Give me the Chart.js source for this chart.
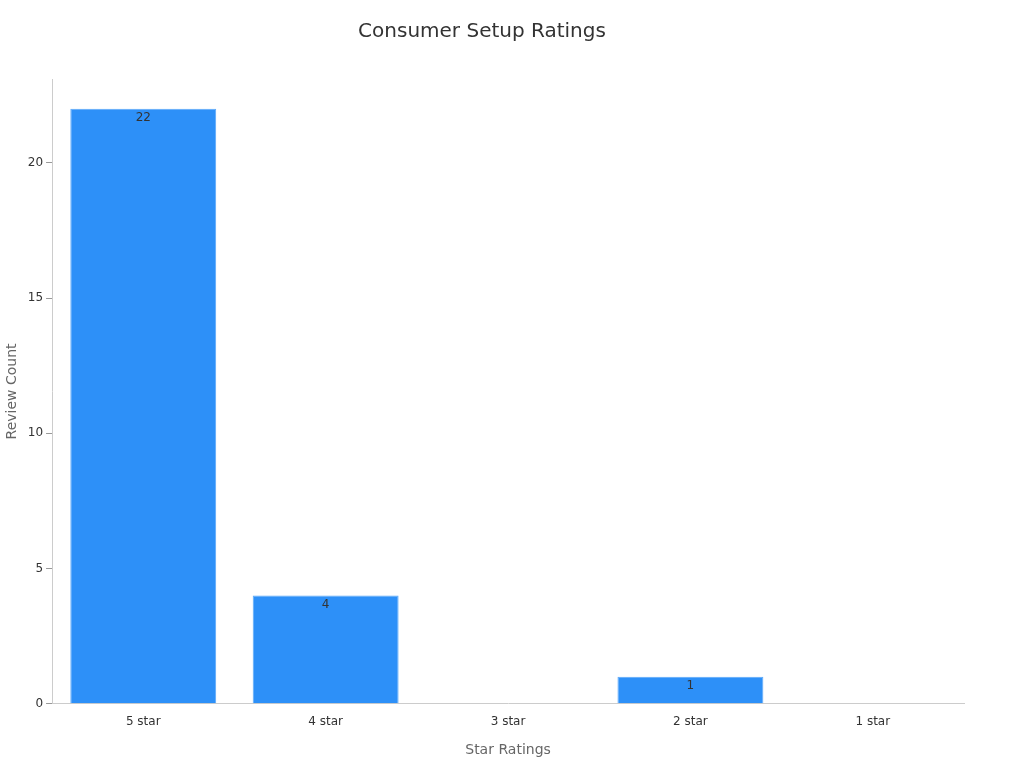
<!DOCTYPE html>
<html>
<head>
<meta charset="utf-8">
<script src="https://cdn.jsdelivr.net/npm/chart.js@4"></script>
<style>
  html, body { margin: 0; padding: 0; background: #fff; }
  #wrap { width: 1024px; height: 768px; }
</style>
</head>
<body>
<div id="wrap"><canvas id="chart"></canvas></div>
<script>
// Dados do gráfico
const categorias = ['5 star', '4 star', '3 star', '2 star', '1 star'];
const contagens = [22, 4, 0, 1, 0];
const ticksY = [0, 5, 10, 15, 20];

// Rótulos de valor dentro do topo da barra
const rotulosBarras = {
    id: 'rotulosBarras',
    afterDatasetsDraw(chart) {
        const ctx = chart.ctx;
        const meta = chart.getDatasetMeta(0);
        ctx.save();
        ctx.font = '12px "DejaVu Sans", sans-serif';
        ctx.fillStyle = '#333';
        ctx.textAlign = 'center';
        ctx.textBaseline = 'top';
        meta.data.forEach((bar, i) => {
            if (contagens[i] > 0) ctx.fillText(contagens[i], bar.x, bar.y + 3);
        });
        ctx.restore();
    }
};

new Chart(document.getElementById('chart'), {
    type: 'bar',
    data: {
        labels: categorias,
        datasets: [{
            data: contagens,
            backgroundColor: '#2d90f8',
            borderColor: '#5aa8fa',
            borderWidth: 1,
            barPercentage: 0.8,
            categoryPercentage: 1
        }]
    },
    options: {
        responsive: true,
        maintainAspectRatio: false,
        animation: false,
        layout: { padding: { top: 10, right: 60, left: 0, bottom: 5 } },
        plugins: {
            legend: { display: false },
            tooltip: { enabled: false },
            title: {
                display: true,
                text: 'Consumer Setup Ratings',
                color: '#333',
                font: { family: 'DejaVu Sans', size: 20, weight: 'normal' },
                padding: { top: 10, bottom: 35 }
            }
        },
        scales: {
            x: {
                grid: { display: false, drawTicks: true },
                border: { color: '#ccc' },
                ticks: { color: '#333', font: { family: 'DejaVu Sans', size: 12 } },
                title: {
                    display: true, text: 'Star Ratings', color: '#666',
                    font: { family: 'DejaVu Sans', size: 14 }, padding: { top: 10 }
                }
            },
            y: {
                min: 0,
                max: 23.1,
                afterBuildTicks: axis => { axis.ticks = ticksY.map(v => ({ value: v })); },
                grid: { display: true, drawOnChartArea: false, tickLength: 6, color: '#999' },
                border: { color: '#ccc' },
                ticks: { color: '#333', font: { family: 'DejaVu Sans', size: 12 } },
                title: {
                    display: true, text: 'Review Count', color: '#666',
                    font: { family: 'DejaVu Sans', size: 14 }
                }
            }
        }
    },
    plugins: [rotulosBarras]
});
</script>
</body>
</html>
